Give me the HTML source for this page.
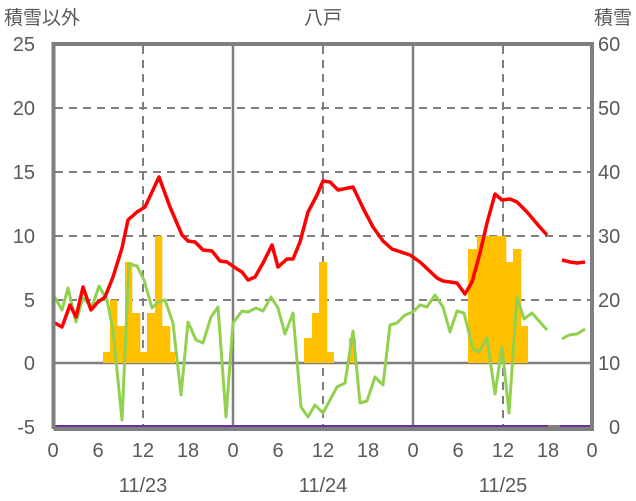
<!DOCTYPE html>
<html><head><meta charset="utf-8"><style>
body{margin:0;background:#fff;}
svg{display:block;font-family:"Liberation Sans","Noto Sans CJK JP",sans-serif;}
</style></head><body>
<svg width="636" height="501" viewBox="0 0 636 501" xmlns="http://www.w3.org/2000/svg">
<g stroke="#7f7f7f" stroke-width="2" stroke-dasharray="8,6" fill="none">
<line x1="55" y1="108" x2="590" y2="108"/>
<line x1="55" y1="172" x2="590" y2="172"/>
<line x1="55" y1="236" x2="590" y2="236"/>
<line x1="55" y1="300" x2="590" y2="300"/>
<line x1="143" y1="46" x2="143" y2="426"/>
<line x1="323" y1="46" x2="323" y2="426"/>
<line x1="503" y1="46" x2="503" y2="426"/>
</g>
<g stroke="#7f7f7f" stroke-width="2.5">
<line x1="233" y1="46" x2="233" y2="426"/>
<line x1="413" y1="46" x2="413" y2="426"/>
<line x1="55" y1="363" x2="590" y2="363"/>
</g>
<g fill="#ffc000">
<rect x="103" y="352" width="7.3" height="11"/>
<rect x="110" y="300" width="7.3" height="63"/>
<rect x="117" y="326" width="8.3" height="37"/>
<rect x="125" y="262" width="7.3" height="101"/>
<rect x="132" y="313" width="8.3" height="50"/>
<rect x="140" y="352" width="7.3" height="11"/>
<rect x="147" y="313" width="8.3" height="50"/>
<rect x="155" y="236" width="7.3" height="127"/>
<rect x="162" y="326" width="8.3" height="37"/>
<rect x="170" y="352" width="5" height="11"/>
<rect x="304" y="338" width="8.3" height="25"/>
<rect x="312" y="313" width="7.3" height="50"/>
<rect x="319" y="262" width="8.3" height="101"/>
<rect x="327" y="352" width="7" height="11"/>
<rect x="349" y="338" width="7" height="25"/>
<rect x="468" y="249" width="9.3" height="114"/>
<rect x="477" y="236" width="29.3" height="127"/>
<rect x="506" y="262" width="7.3" height="101"/>
<rect x="513" y="249" width="8.3" height="114"/>
<rect x="521" y="326" width="7" height="37"/>
</g>
<g fill="none" stroke="#92d050" stroke-width="3" stroke-linejoin="round">
<polyline points="53,294 62,310 68,288 76,322 83,298 92,307 99,286 107,300 113,330 122,420 129,264 137,266 144,280 152,308 158,302 165,300 173,323 181,395 188,322 196,340 203,343 211,317 218,307 226,417 233,323 242,311 248,312 256,308 263,311 271,297 278,308 285,334 293,313 301,407 308,417 315,405 323,413 330,400 337,387 345,383 353,331 360,403 367,401 375,377 383,385 390,325 397,323 405,315 413,312 420,305 427,307 435,295 443,307 450,332 457,311 464,313 473,349 479,352 487,338 495,394 502,347 509,413 517,297 524,319 532,313 547,330"/>
<polyline points="562,339 569,335 577,334 585,329"/>
</g>
<g fill="none" stroke="#ff0000" stroke-width="3.5" stroke-linejoin="round">
<polyline points="53,322 62,327 70,305 76,317 83,287 91,310 98,302 105,297 113,277 122,248 128,220 137,212 145,207 159,177 170,207 182,235 188,241 195,242 203,250 212,251 220,261 227,262 237,269 242,272 248,280 255,277 263,263 272,245 278,267 287,259 293,259 300,242 308,212 317,195 323,181 330,182 338,190 353,187 363,208 373,227 383,241 392,249 410,255 420,262 437,278 443,281 457,283 465,294 472,282 480,253 487,223 495,194 502,200 510,199 517,202 527,212 538,225 547,235"/>
<polyline points="562,260 570,262 577,263 585,262"/>
</g>
<line x1="55" y1="426.5" x2="590" y2="426.5" stroke="#7030a0" stroke-width="3"/>
<rect x="548" y="425" width="12" height="4" fill="#7f7f7f"/>
<path d="M53.5,429 V44 H592 V429 H53.5" fill="none" stroke="#7f7f7f" stroke-width="4"/>
<g fill="#595959" font-size="20" text-anchor="end">
<text x="35" y="51">25</text>
<text x="35" y="115">20</text>
<text x="35" y="179">15</text>
<text x="35" y="243">10</text>
<text x="35" y="307">5</text>
<text x="35" y="370">0</text>
<text x="35" y="434">-5</text>
</g>
<g fill="#595959" font-size="20" text-anchor="start">
<text x="598" y="51">60</text>
<text x="598" y="115">50</text>
<text x="598" y="179">40</text>
<text x="598" y="243">30</text>
<text x="598" y="307">20</text>
<text x="598" y="370">10</text>
<text x="609" y="434">0</text>
</g>
<g fill="#595959" font-size="20" text-anchor="middle">
<text x="53" y="457">0</text><text x="98" y="457">6</text><text x="143" y="457">12</text><text x="188" y="457">18</text>
<text x="233" y="457">0</text><text x="278" y="457">6</text><text x="323" y="457">12</text><text x="368" y="457">18</text>
<text x="413" y="457">0</text><text x="458" y="457">6</text><text x="503" y="457">12</text><text x="548" y="457">18</text>
<text x="592" y="457">0</text>
<text x="143" y="492">11/23</text><text x="323" y="492">11/24</text><text x="503" y="492">11/25</text>
<text x="323" y="24" font-size="19">八戸</text>
</g>
<text x="4" y="24" fill="#595959" font-size="19">積雪以外</text>
<text x="632" y="24" fill="#595959" font-size="19" text-anchor="end">積雪</text>
</svg>
</body></html>
